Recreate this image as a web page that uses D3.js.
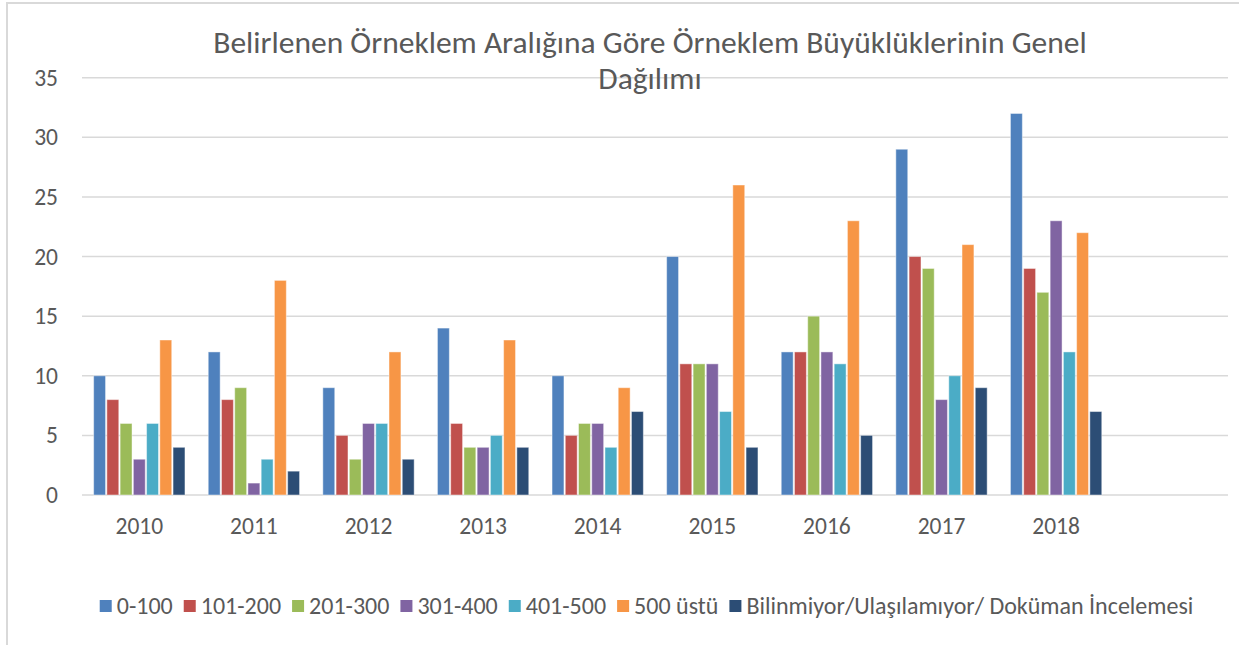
<!DOCTYPE html>
<html>
<head>
<meta charset="utf-8">
<script src="https://cdn.jsdelivr.net/npm/d3@7"></script>
<style>
  body { margin: 0; background: #fff; }
  svg text { font-family: Carlito, Calibri, Lato, sans-serif; fill: #595959; }
</style>
</head>
<body>
<svg id="chart" width="1239" height="645"></svg>
<script>
const years = ["2010", "2011", "2012", "2013", "2014", "2015", "2016", "2017", "2018"];
const seriesNames = ["0-100", "101-200", "201-300", "301-400", "401-500", "500 üstü", "Bilinmiyor/Ulaşılamıyor/ Doküman İncelemesi"];
const colors = ["#4F81BD", "#C0504D", "#9BBB59", "#8064A2", "#4BACC6", "#F79646", "#2C4D75"];

const s0_100 = [10, 12, 9, 14, 10, 20, 12, 29, 32];
const s101_200 = [8, 8, 5, 6, 5, 11, 12, 20, 19];
const s201_300 = [6, 9, 3, 4, 6, 11, 15, 19, 17];
const s301_400 = [3, 1, 6, 4, 6, 11, 12, 8, 23];
const s401_500 = [6, 3, 6, 5, 4, 7, 11, 10, 12];
const s500plus = [13, 18, 12, 13, 9, 26, 23, 21, 22];
const sUnknown = [4, 2, 3, 4, 7, 4, 5, 9, 7];

const yTicks = [0, 5, 10, 15, 20, 25, 30, 35];
const titleLines = ["Belirlenen Örneklem Aralığına Göre Örneklem Büyüklüklerinin Genel", "Dağılımı"];

const allSeries = [s0_100, s101_200, s201_300, s301_400, s401_500, s500plus, sUnknown];

const svg = d3.select("#chart");

// chart frame (only left/top edges visible in the picture)
svg.append("rect")
  .attr("x", 7).attr("y", 3)
  .attr("width", 1260).attr("height", 700)
  .attr("fill", "none")
  .attr("stroke", "#D9D9D9")
  .attr("stroke-width", 2);

const plotLeft = 82, plotRight = 1228, plotTop = 77.7, plotBottom = 495;

// one empty slot after 2018, as in the original
const x = d3.scaleBand()
  .domain(years.concat([" "]))
  .range([plotLeft, plotRight])
  .paddingInner(0.18)
  .paddingOuter(0.09);

const xInner = d3.scaleBand()
  .domain(d3.range(seriesNames.length))
  .range([0, x.bandwidth()])
  .padding(0.1);

const y = d3.scaleLinear().domain([0, 35]).range([plotBottom, plotTop]);

// gridlines
svg.append("g")
  .selectAll("line")
  .data(yTicks)
  .join("line")
  .attr("x1", plotLeft).attr("x2", plotRight)
  .attr("y1", d => y(d)).attr("y2", d => y(d))
  .attr("stroke", "#D9D9D9")
  .attr("stroke-width", 1.5);

// y axis labels
const yAxis = svg.append("g")
  .attr("transform", "translate(58,0)")
  .call(d3.axisLeft(y).tickValues(yTicks).tickSize(0).tickPadding(0));
yAxis.select(".domain").remove();
yAxis.attr("font-family", null);
yAxis.selectAll("text")
  .attr("font-size", 23.5)
  .attr("fill", "#595959");

// x axis labels
const xAxis = svg.append("g")
  .attr("transform", "translate(0," + plotBottom + ")")
  .call(d3.axisBottom(x).tickSize(0).tickPadding(22));
xAxis.select(".domain").remove();
xAxis.attr("font-family", null);
xAxis.selectAll("text")
  .attr("font-size", 23.5)
  .attr("fill", "#595959");

// bars
const groups = svg.append("g")
  .selectAll("g")
  .data(allSeries)
  .join("g")
  .attr("fill", (d, i) => colors[i]);

groups.each(function (vals, si) {
  d3.select(this)
    .selectAll("rect")
    .data(vals)
    .join("rect")
    .attr("x", (d, i) => x(years[i]) + xInner(si))
    .attr("y", d => y(d))
    .attr("width", xInner.bandwidth())
    .attr("height", d => plotBottom - y(d))
    .attr("stroke", "#ffffff")
    .attr("stroke-opacity", 0.45)
    .attr("stroke-width", 1);
});

// title
svg.append("g")
  .selectAll("text")
  .data(titleLines)
  .join("text")
  .attr("x", 650)
  .attr("y", (d, i) => 53 + i * 36)
  .attr("text-anchor", "middle")
  .attr("font-size", 31.5)
  .text(d => d);

// legend
const legend = svg.append("g").attr("transform", "translate(0,606)");
const items = legend.selectAll("g")
  .data(seriesNames)
  .join("g");
items.append("rect")
  .attr("width", 12).attr("height", 12)
  .attr("y", -6)
  .attr("fill", (d, i) => colors[i]);
items.append("text")
  .attr("x", 17)
  .attr("dy", "0.35em")
  .attr("font-size", 24)
  .text(d => d);

const widths = items.nodes().map(n => n.getBBox().width);
const total = d3.sum(widths) + 11 * (widths.length - 1);
let cursor = 646.5 - total / 2;
items.attr("transform", (d, i) => {
  const tx = cursor;
  cursor += widths[i] + 11;
  return "translate(" + tx + ",0)";
});
</script>
</body>
</html>
